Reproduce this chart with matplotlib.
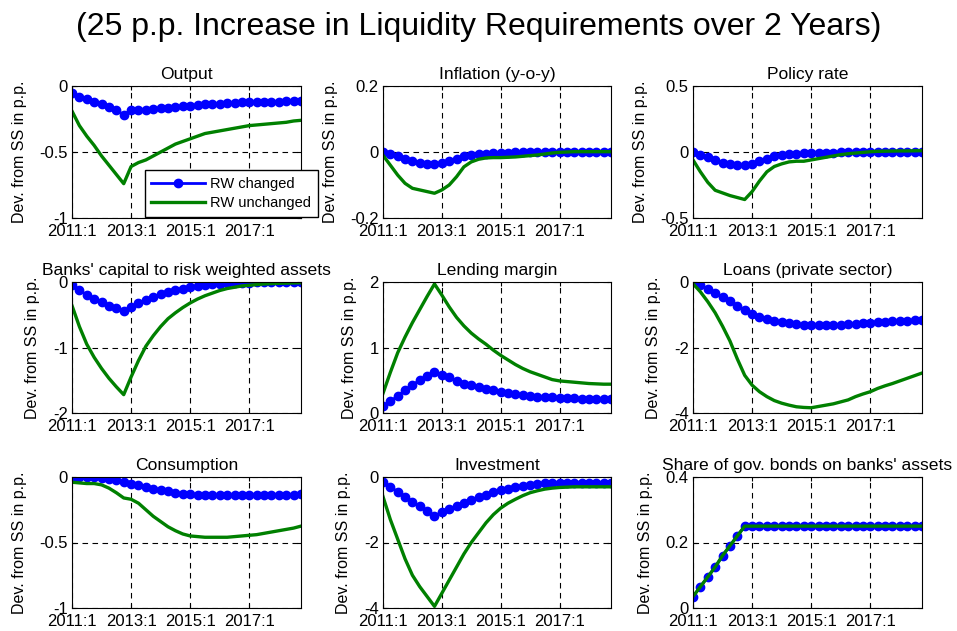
import matplotlib
matplotlib.use("Agg")
import matplotlib.pyplot as plt
import numpy as np

plt.rcParams['font.family'] = ['Liberation Sans', 'DejaVu Sans']

# quarters 2011:1 .. 2018:4
quarters = np.arange(32)
xtick_pos = [0, 8, 16, 24]
xtick_labels = ["2011:1", "2013:1", "2015:1", "2017:1"]

titles = ["Output", "Inflation (y-o-y)", "Policy rate",
          "Banks' capital to risk weighted assets", "Lending margin", "Loans (private sector)",
          "Consumption", "Investment", "Share of gov. bonds on banks' assets"]

output_rw = [-0.05, -0.08, -0.10, -0.12, -0.14, -0.16, -0.18, -0.22, -0.18, -0.18, -0.18, -0.175,
             -0.17, -0.165, -0.16, -0.155, -0.15, -0.145, -0.14, -0.14, -0.135, -0.13, -0.13, -0.125,
             -0.125, -0.12, -0.12, -0.12, -0.12, -0.115, -0.115, -0.115]
output_un = [-0.19, -0.30, -0.38, -0.45, -0.53, -0.60, -0.67, -0.74, -0.61, -0.58, -0.56, -0.53,
             -0.50, -0.47, -0.44, -0.42, -0.40, -0.38, -0.36, -0.35, -0.34, -0.33, -0.32, -0.31,
             -0.30, -0.295, -0.29, -0.285, -0.28, -0.275, -0.265, -0.26]

infl_rw = [0, -0.005, -0.012, -0.02, -0.027, -0.032, -0.036, -0.037, -0.033, -0.027, -0.02, -0.012,
           -0.008, -0.006, -0.005, -0.004, -0.003, -0.002, -0.001, 0, 0, 0, 0, 0,
           0, 0, 0, 0, 0, 0, 0, 0]
infl_un = [-0.01, -0.04, -0.07, -0.095, -0.11, -0.115, -0.12, -0.125, -0.115, -0.10, -0.075, -0.045,
           -0.03, -0.022, -0.018, -0.017, -0.017, -0.016, -0.015, -0.013, -0.011, -0.009, -0.006, -0.003,
           -0.001, 0, 0.001, 0.001, 0.001, 0.001, 0.001, 0.001]

rate_rw = [0, -0.02, -0.04, -0.06, -0.08, -0.09, -0.10, -0.10, -0.09, -0.07, -0.05, -0.03,
           -0.02, -0.015, -0.012, -0.01, -0.008, -0.006, -0.005, -0.004, -0.003, -0.002, -0.001, 0,
           0, 0, 0, 0, 0, 0, 0, 0]
rate_un = [-0.06, -0.15, -0.23, -0.29, -0.31, -0.33, -0.345, -0.36, -0.30, -0.22, -0.15, -0.11,
           -0.09, -0.075, -0.07, -0.07, -0.06, -0.05, -0.04, -0.03, -0.02, -0.013, -0.008, -0.003,
           0.002, 0.005, 0.006, 0.007, 0.008, 0.008, 0.009, 0.01]

cap_rw = [-0.05, -0.12, -0.20, -0.26, -0.31, -0.36, -0.40, -0.44, -0.38, -0.32, -0.27, -0.23,
          -0.19, -0.15, -0.12, -0.10, -0.08, -0.06, -0.045, -0.035, -0.025, -0.02, -0.015, -0.01,
          -0.008, -0.006, -0.004, -0.003, -0.002, -0.001, 0, 0]
cap_un = [-0.36, -0.68, -0.95, -1.15, -1.32, -1.47, -1.60, -1.72, -1.45, -1.20, -0.98, -0.82,
          -0.68, -0.56, -0.47, -0.39, -0.32, -0.26, -0.21, -0.17, -0.13, -0.10, -0.08, -0.06,
          -0.05, -0.04, -0.03, -0.025, -0.02, -0.018, -0.015, -0.012]

margin_rw = [0.10, 0.18, 0.26, 0.35, 0.43, 0.50, 0.56, 0.62, 0.58, 0.55, 0.49, 0.45,
             0.42, 0.39, 0.37, 0.345, 0.32, 0.30, 0.29, 0.27, 0.26, 0.25, 0.245, 0.24,
             0.235, 0.23, 0.225, 0.22, 0.22, 0.215, 0.21, 0.21]
margin_un = [0.30, 0.62, 0.92, 1.16, 1.38, 1.58, 1.78, 1.97, 1.80, 1.62, 1.46, 1.33,
             1.22, 1.13, 1.05, 0.96, 0.88, 0.81, 0.74, 0.68, 0.63, 0.59, 0.55, 0.51,
             0.49, 0.48, 0.47, 0.46, 0.45, 0.445, 0.44, 0.44]

loans_rw = [0, -0.10, -0.20, -0.33, -0.45, -0.58, -0.72, -0.86, -0.97, -1.06, -1.13, -1.18,
            -1.22, -1.26, -1.28, -1.30, -1.32, -1.32, -1.32, -1.31, -1.30, -1.29, -1.28, -1.26,
            -1.24, -1.22, -1.21, -1.20, -1.19, -1.18, -1.17, -1.16]
loans_un = [-0.05, -0.30, -0.60, -0.94, -1.35, -1.80, -2.35, -2.85, -3.15, -3.35, -3.50, -3.62,
            -3.70, -3.76, -3.81, -3.83, -3.84, -3.80, -3.76, -3.72, -3.66, -3.60, -3.50, -3.42,
            -3.35, -3.25, -3.17, -3.10, -3.02, -2.94, -2.86, -2.78]

cons_rw = [0, 0, 0, -0.003, -0.008, -0.015, -0.025, -0.038, -0.05, -0.062, -0.075, -0.088,
           -0.10, -0.11, -0.12, -0.128, -0.133, -0.137, -0.139, -0.14, -0.141, -0.141, -0.141, -0.14,
           -0.14, -0.139, -0.138, -0.137, -0.136, -0.135, -0.134, -0.133]
cons_un = [-0.04, -0.045, -0.05, -0.05, -0.06, -0.085, -0.12, -0.16, -0.17, -0.20, -0.25, -0.30,
           -0.34, -0.38, -0.41, -0.435, -0.45, -0.455, -0.46, -0.46, -0.46, -0.46, -0.455, -0.45,
           -0.445, -0.44, -0.43, -0.42, -0.41, -0.40, -0.39, -0.375]

inv_rw = [-0.15, -0.30, -0.45, -0.60, -0.75, -0.90, -1.05, -1.18, -1.08, -0.98, -0.88, -0.79,
          -0.70, -0.62, -0.54, -0.47, -0.41, -0.36, -0.31, -0.27, -0.24, -0.21, -0.19, -0.18,
          -0.17, -0.17, -0.17, -0.17, -0.17, -0.17, -0.17, -0.17]
inv_un = [-0.60, -1.30, -1.90, -2.50, -3.00, -3.35, -3.65, -3.95, -3.55, -3.15, -2.75, -2.35,
          -2.00, -1.70, -1.40, -1.15, -0.95, -0.80, -0.68, -0.57, -0.48, -0.42, -0.37, -0.34,
          -0.32, -0.31, -0.30, -0.30, -0.30, -0.30, -0.30, -0.30]

bonds_rw = [0.035, 0.065, 0.095, 0.125, 0.16, 0.19, 0.22, 0.25, 0.25, 0.25, 0.25, 0.25,
            0.25, 0.25, 0.25, 0.25, 0.25, 0.25, 0.25, 0.25, 0.25, 0.25, 0.25, 0.25,
            0.25, 0.25, 0.25, 0.25, 0.25, 0.25, 0.25, 0.25]
bonds_un = list(bonds_rw)

series = [(output_rw, output_un), (infl_rw, infl_un), (rate_rw, rate_un),
          (cap_rw, cap_un), (margin_rw, margin_un), (loans_rw, loans_un),
          (cons_rw, cons_un), (inv_rw, inv_un), (bonds_rw, bonds_un)]

ylims = [(-1, 0), (-0.2, 0.2), (-0.5, 0.5), (-2, 0), (0, 2), (-4, 0), (-1, 0), (-4, 0), (0, 0.4)]
yticks = [[-1, -0.5, 0], [-0.2, 0, 0.2], [-0.5, 0, 0.5], [-2, -1, 0], [0, 1, 2],
          [-4, -2, 0], [-1, -0.5, 0], [-4, -2, 0], [0, 0.2, 0.4]]

W, H = 957, 631
fig = plt.figure(figsize=(W / 100, H / 100), dpi=100)

# axes boxes in pixels (left, right) and (top, bottom)
cols = [(72, 301), (383, 611), (693, 922)]
rows = [(86, 218), (282, 413), (477, 608)]

blue = "#0000FF"
green = "#008000"

axes = []
for i in range(9):
    r, c = divmod(i, 3)
    l, rr = cols[c]
    t, b = rows[r]
    ax = fig.add_axes([l / W, 1 - b / H, (rr - l) / W, (b - t) / H])
    rw, un = series[i]
    ax.plot(quarters, rw, color=blue, lw=2, marker="o", ms=6, label="RW changed")
    ax.plot(quarters, un, color=green, lw=2.4, label="RW unchanged")
    ax.set_xlim(0, 31)
    ax.set_ylim(*ylims[i])
    ax.set_yticks(yticks[i])
    ax.set_yticklabels([f"{v:g}" for v in yticks[i]])
    ax.set_xticks(xtick_pos)
    ax.set_xticklabels(xtick_labels)
    ax.grid(True, color="black", ls=(0, (5, 4)), lw=0.8)
    ax.tick_params(direction="in", top=True, right=True, labelsize=12, length=3, pad=3)
    ax.tick_params(axis="x", pad=4.5)
    ax.set_title(titles[i], fontsize=12.6, pad=5)
    ax.set_ylabel("Dev. from SS in p.p.", fontsize=11.5, labelpad=9)
    for s in ax.spines.values():
        s.set_linewidth(0.8)
    axes.append(ax)

axes[0].legend(loc="lower right", bbox_to_anchor=(318 / W, 1 - 217 / H),
               bbox_transform=fig.transFigure, fontsize=10.5, frameon=True,
               fancybox=False, edgecolor="black", framealpha=1,
               handlelength=3.7, handletextpad=0.35, borderaxespad=0,
               borderpad=0.45, labelspacing=0.4)

fig.suptitle("(25 p.p. Increase in Liquidity Requirements over 2 Years)",
             fontsize=23, y=1 - 27 / H, va="center")

fig.savefig("out.png", dpi=100)
